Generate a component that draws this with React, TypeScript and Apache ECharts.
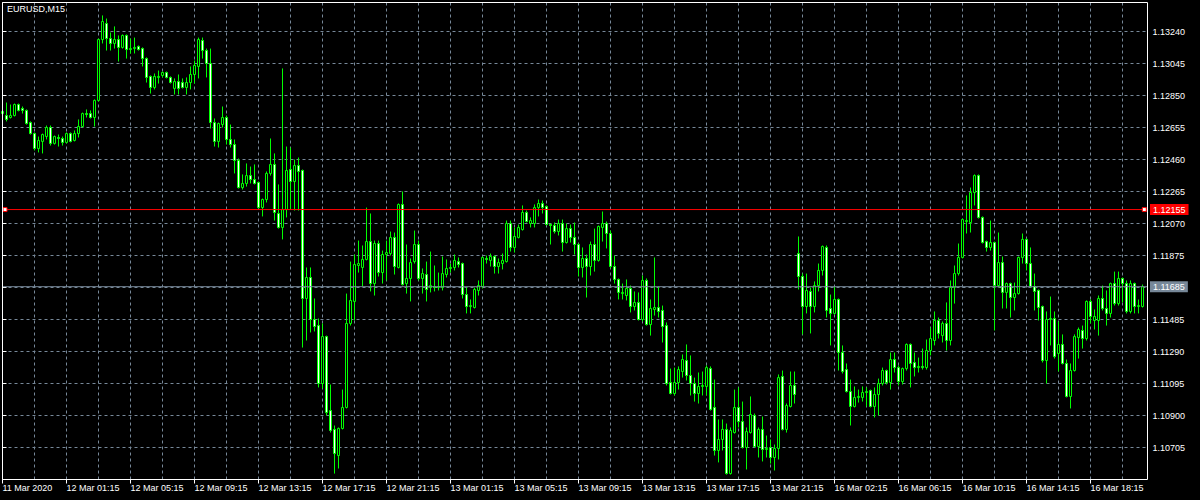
import React, { useEffect, useRef } from 'react';
import * as echarts from 'echarts';

const symbolTitle = 'EURUSD,M15';

// one label every 16 bars (M15), starting at the first bar
const timeLabels = [
  '11 Mar 2020', '12 Mar 01:15', '12 Mar 05:15', '12 Mar 09:15', '12 Mar 13:15', '12 Mar 17:15',
  '12 Mar 21:15', '13 Mar 01:15', '13 Mar 05:15', '13 Mar 09:15', '13 Mar 13:15', '13 Mar 17:15',
  '13 Mar 21:15', '16 Mar 02:15', '16 Mar 06:15', '16 Mar 10:15', '16 Mar 14:15', '16 Mar 18:15',
];

const priceLabels = [
  '1.10705', '1.10900', '1.11095', '1.11290', '1.11485', '1.11875', '1.12070',
  '1.12265', '1.12460', '1.12655', '1.12850', '1.13045', '1.13240',
];
const priceMin = 1.1051;
const priceMax = 1.1341672;
const priceStep = 0.00195;

const levelPrice = 1.12155;
const bidPrice = 1.11685;
// horizontal lines run across the whole chart width (0 = left edge, 1 = right edge)
const lineSpan = [0, 1];
// anchor squares of the horizontal level line
const levelAnchors = [0.0022, 0.9972];

// [open, close, low, high]
const candles: number[][] = [
  [1.12740, 1.12753, 1.12704, 1.12783], [1.12728, 1.12704, 1.12692, 1.12807], [1.12716, 1.12728, 1.12710, 1.12795],
  [1.12728, 1.12795, 1.12722, 1.12801], [1.12795, 1.12759, 1.12753, 1.12801], [1.12771, 1.12759, 1.12740, 1.12783],
  [1.12759, 1.12679, 1.12673, 1.12765], [1.12685, 1.12618, 1.12612, 1.12692], [1.12618, 1.12527, 1.12515, 1.12625],
  [1.12527, 1.12576, 1.12503, 1.12600], [1.12570, 1.12612, 1.12497, 1.12618], [1.12600, 1.12655, 1.12582, 1.12667],
  [1.12655, 1.12558, 1.12545, 1.12667], [1.12558, 1.12600, 1.12551, 1.12606], [1.12594, 1.12588, 1.12539, 1.12612],
  [1.12588, 1.12564, 1.12545, 1.12600], [1.12564, 1.12618, 1.12558, 1.12625], [1.12618, 1.12570, 1.12564, 1.12625],
  [1.12576, 1.12618, 1.12570, 1.12637], [1.12618, 1.12661, 1.12594, 1.12704], [1.12661, 1.12740, 1.12655, 1.12746],
  [1.12740, 1.12734, 1.12716, 1.12765], [1.12740, 1.12716, 1.12710, 1.12759], [1.12716, 1.12820, 1.12661, 1.12826],
  [1.12820, 1.13191, 1.12813, 1.13197], [1.13191, 1.13301, 1.13167, 1.13338], [1.13289, 1.13197, 1.13124, 1.13319],
  [1.13197, 1.13167, 1.13124, 1.13234], [1.13167, 1.13191, 1.13136, 1.13271], [1.13191, 1.13143, 1.13057, 1.13216],
  [1.13143, 1.13216, 1.13136, 1.13222], [1.13216, 1.13130, 1.13075, 1.13222], [1.13130, 1.13136, 1.13106, 1.13197],
  [1.13136, 1.13143, 1.13106, 1.13203], [1.13149, 1.13130, 1.13124, 1.13155], [1.13136, 1.13075, 1.13027, 1.13143],
  [1.13075, 1.12960, 1.12929, 1.13082], [1.12966, 1.12899, 1.12862, 1.12972], [1.12899, 1.12966, 1.12887, 1.12984],
  [1.12960, 1.12966, 1.12923, 1.13002], [1.12972, 1.12990, 1.12960, 1.12996], [1.12990, 1.12960, 1.12954, 1.12996],
  [1.12960, 1.12929, 1.12923, 1.12966], [1.12893, 1.12935, 1.12856, 1.12954], [1.12935, 1.12893, 1.12856, 1.12978],
  [1.12929, 1.12899, 1.12893, 1.12954], [1.12899, 1.12929, 1.12856, 1.12960], [1.12929, 1.12978, 1.12887, 1.13027],
  [1.12978, 1.13033, 1.12923, 1.13063], [1.13027, 1.13191, 1.12954, 1.13203], [1.13185, 1.13124, 1.13075, 1.13203],
  [1.13124, 1.13045, 1.12960, 1.13136], [1.13045, 1.12685, 1.12649, 1.13136], [1.12685, 1.12570, 1.12539, 1.12710],
  [1.12570, 1.12679, 1.12533, 1.12685], [1.12673, 1.12716, 1.12655, 1.12783], [1.12716, 1.12582, 1.12551, 1.12728],
  [1.12582, 1.12551, 1.12533, 1.12673], [1.12551, 1.12454, 1.12375, 1.12582], [1.12454, 1.12289, 1.12283, 1.12466],
  [1.12289, 1.12314, 1.12277, 1.12369], [1.12314, 1.12362, 1.12295, 1.12436], [1.12362, 1.12338, 1.12314, 1.12417],
  [1.12338, 1.12314, 1.12308, 1.12430], [1.12320, 1.12167, 1.12161, 1.12326], [1.12167, 1.12216, 1.12113, 1.12222],
  [1.12216, 1.12375, 1.12198, 1.12387], [1.12375, 1.12430, 1.12362, 1.12588], [1.12430, 1.12137, 1.12088, 1.12497],
  [1.12131, 1.12046, 1.12039, 1.12308], [1.12046, 1.12155, 1.11973, 1.13015], [1.12155, 1.12393, 1.12107, 1.12539],
  [1.12399, 1.12326, 1.12155, 1.12533], [1.12326, 1.12423, 1.12149, 1.12460], [1.12423, 1.12387, 1.12149, 1.12472],
  [1.12393, 1.11613, 1.11314, 1.12399], [1.11613, 1.11741, 1.11357, 1.11802], [1.11741, 1.11485, 1.11406, 1.11802],
  [1.11485, 1.11442, 1.11412, 1.11613], [1.11448, 1.11095, 1.11071, 1.11491], [1.11095, 1.11381, 1.11064, 1.11461],
  [1.11381, 1.10918, 1.10900, 1.11387], [1.10930, 1.10809, 1.10796, 1.11089], [1.10815, 1.10668, 1.10546, 1.10839],
  [1.10656, 1.10821, 1.10577, 1.10827], [1.10821, 1.10949, 1.10815, 1.11058], [1.10949, 1.11461, 1.10943, 1.11643],
  [1.11461, 1.11601, 1.11448, 1.11838], [1.11595, 1.11820, 1.11479, 1.11881], [1.11814, 1.11826, 1.11771, 1.11966],
  [1.11802, 1.11851, 1.11686, 1.11936], [1.11851, 1.11960, 1.11845, 1.12167], [1.11960, 1.11704, 1.11656, 1.12131],
  [1.11704, 1.11948, 1.11631, 1.11966], [1.11948, 1.11771, 1.11747, 1.11966], [1.11771, 1.11881, 1.11704, 1.11905],
  [1.11881, 1.11893, 1.11723, 1.11966], [1.11887, 1.11985, 1.11875, 1.12021], [1.11985, 1.11808, 1.11759, 1.12015],
  [1.11802, 1.12186, 1.11796, 1.12192], [1.12186, 1.11698, 1.11692, 1.12265], [1.11704, 1.11735, 1.11643, 1.11942],
  [1.11735, 1.11832, 1.11595, 1.11857], [1.11838, 1.11942, 1.11826, 1.12027], [1.11942, 1.11735, 1.11723, 1.11966],
  [1.11735, 1.11765, 1.11643, 1.11796], [1.11759, 1.11668, 1.11595, 1.11838], [1.11680, 1.11692, 1.11650, 1.11899],
  [1.11686, 1.11680, 1.11656, 1.11814], [1.11680, 1.11686, 1.11662, 1.11771], [1.11680, 1.11765, 1.11662, 1.11869],
  [1.11759, 1.11796, 1.11741, 1.11851], [1.11796, 1.11802, 1.11771, 1.11826], [1.11802, 1.11845, 1.11784, 1.11881],
  [1.11838, 1.11820, 1.11802, 1.11863], [1.11826, 1.11637, 1.11613, 1.11832], [1.11637, 1.11564, 1.11522, 1.11680],
  [1.11564, 1.11570, 1.11522, 1.11607], [1.11558, 1.11668, 1.11552, 1.11680], [1.11662, 1.11692, 1.11631, 1.11723],
  [1.11686, 1.11863, 1.11674, 1.11869], [1.11857, 1.11851, 1.11826, 1.11875], [1.11845, 1.11869, 1.11808, 1.11887],
  [1.11869, 1.11808, 1.11765, 1.11875], [1.11808, 1.11832, 1.11765, 1.11857], [1.11826, 1.11845, 1.11790, 1.11887],
  [1.11838, 1.12070, 1.11832, 1.12088], [1.12070, 1.11924, 1.11899, 1.12088], [1.11924, 1.11991, 1.11893, 1.12046],
  [1.11985, 1.12046, 1.11979, 1.12064], [1.12033, 1.12137, 1.12027, 1.12180], [1.12137, 1.12082, 1.12076, 1.12149],
  [1.12070, 1.12088, 1.12046, 1.12107], [1.12070, 1.12167, 1.12046, 1.12186], [1.12167, 1.12192, 1.12113, 1.12216],
  [1.12192, 1.12167, 1.12131, 1.12210], [1.12174, 1.12064, 1.12058, 1.12180], [1.12064, 1.12058, 1.11942, 1.12070],
  [1.12058, 1.12021, 1.12009, 1.12076], [1.12021, 1.12070, 1.11997, 1.12094], [1.12070, 1.11954, 1.11899, 1.12094],
  [1.11954, 1.12039, 1.11948, 1.12070], [1.12039, 1.11985, 1.11954, 1.12064], [1.11985, 1.11942, 1.11881, 1.12076],
  [1.11942, 1.11802, 1.11747, 1.11948], [1.11802, 1.11857, 1.11741, 1.11924], [1.11857, 1.11808, 1.11619, 1.11881],
  [1.11808, 1.11942, 1.11753, 1.11960], [1.11942, 1.11845, 1.11777, 1.12039], [1.11845, 1.12052, 1.11838, 1.12058],
  [1.12046, 1.12070, 1.11960, 1.12143], [1.12070, 1.12009, 1.11918, 1.12082], [1.12009, 1.11808, 1.11796, 1.12027],
  [1.11808, 1.11729, 1.11704, 1.11875], [1.11729, 1.11650, 1.11607, 1.11735], [1.11643, 1.11650, 1.11607, 1.11704],
  [1.11631, 1.11674, 1.11601, 1.11729], [1.11674, 1.11564, 1.11528, 1.11692], [1.11564, 1.11589, 1.11540, 1.11656],
  [1.11589, 1.11485, 1.11479, 1.11650], [1.11485, 1.11723, 1.11473, 1.11753], [1.11723, 1.11454, 1.11448, 1.11735],
  [1.11454, 1.11552, 1.11387, 1.11607], [1.11546, 1.11558, 1.11509, 1.11863], [1.11558, 1.11534, 1.11497, 1.11686],
  [1.11540, 1.11442, 1.11345, 1.11570], [1.11448, 1.11095, 1.11083, 1.11467], [1.11101, 1.11034, 1.11028, 1.11186],
  [1.11034, 1.11101, 1.11022, 1.11192], [1.11101, 1.11180, 1.11058, 1.11199], [1.11168, 1.11241, 1.11131, 1.11272],
  [1.11235, 1.11144, 1.11113, 1.11333], [1.11144, 1.11095, 1.11022, 1.11266], [1.11095, 1.11034, 1.10985, 1.11131],
  [1.11034, 1.11077, 1.10973, 1.11162], [1.11077, 1.11083, 1.11022, 1.11168], [1.11077, 1.11192, 1.11022, 1.11205],
  [1.11186, 1.10937, 1.10930, 1.11199], [1.10949, 1.10687, 1.10656, 1.11119], [1.10687, 1.10754, 1.10614, 1.10876],
  [1.10754, 1.10815, 1.10687, 1.10876], [1.10815, 1.10546, 1.10540, 1.10851], [1.10546, 1.10809, 1.10540, 1.10827],
  [1.10796, 1.10949, 1.10790, 1.11058], [1.10949, 1.10863, 1.10827, 1.11071], [1.10863, 1.10705, 1.10699, 1.10985],
  [1.10705, 1.10802, 1.10571, 1.10827], [1.10796, 1.10906, 1.10790, 1.11016], [1.10900, 1.10711, 1.10705, 1.10912],
  [1.10711, 1.10815, 1.10644, 1.10827], [1.10815, 1.10693, 1.10620, 1.10894], [1.10693, 1.10699, 1.10644, 1.10778],
  [1.10705, 1.10644, 1.10607, 1.10754], [1.10644, 1.10699, 1.10565, 1.10723], [1.10699, 1.11131, 1.10632, 1.11150],
  [1.11138, 1.10815, 1.10809, 1.11174], [1.10815, 1.10961, 1.10796, 1.10973], [1.10955, 1.11083, 1.10949, 1.11168],
  [1.11083, 1.11028, 1.10973, 1.11168], [1.11887, 1.11747, 1.11668, 1.11991], [1.11747, 1.11564, 1.11394, 1.11765],
  [1.11564, 1.11662, 1.11522, 1.11765], [1.11656, 1.11564, 1.11400, 1.11680], [1.11564, 1.11692, 1.11528, 1.11717],
  [1.11692, 1.11784, 1.11656, 1.11826], [1.11784, 1.11930, 1.11753, 1.11936], [1.11924, 1.11540, 1.11497, 1.11936],
  [1.11552, 1.11522, 1.11327, 1.11637], [1.11522, 1.11607, 1.11515, 1.11686], [1.11607, 1.11284, 1.11174, 1.11613],
  [1.11284, 1.11168, 1.11156, 1.11327], [1.11180, 1.11046, 1.11040, 1.11217], [1.11046, 1.10955, 1.10839, 1.11119],
  [1.10955, 1.11010, 1.10949, 1.11077], [1.11010, 1.11016, 1.10979, 1.11058], [1.11010, 1.11040, 1.10985, 1.11077],
  [1.11040, 1.11046, 1.10955, 1.11071], [1.11052, 1.10955, 1.10949, 1.11058], [1.10955, 1.11028, 1.10888, 1.11071],
  [1.11028, 1.11095, 1.10900, 1.11125], [1.11095, 1.11174, 1.11083, 1.11192], [1.11174, 1.11101, 1.11089, 1.11180],
  [1.11101, 1.11241, 1.11058, 1.11284], [1.11241, 1.11192, 1.11162, 1.11284], [1.11192, 1.11107, 1.11083, 1.11205],
  [1.11107, 1.11186, 1.11089, 1.11192], [1.11186, 1.11333, 1.11174, 1.11339], [1.11333, 1.11217, 1.11071, 1.11339],
  [1.11223, 1.11192, 1.11138, 1.11284], [1.11192, 1.11199, 1.11162, 1.11253], [1.11199, 1.11192, 1.11180, 1.11308],
  [1.11192, 1.11296, 1.11180, 1.11363], [1.11296, 1.11369, 1.11266, 1.11436], [1.11357, 1.11479, 1.11327, 1.11534],
  [1.11479, 1.11400, 1.11369, 1.11497], [1.11387, 1.11461, 1.11345, 1.11473], [1.11461, 1.11357, 1.11296, 1.11589],
  [1.11357, 1.11680, 1.11327, 1.11723], [1.11680, 1.11765, 1.11582, 1.11814], [1.11765, 1.11863, 1.11753, 1.11948],
  [1.11863, 1.12094, 1.11857, 1.12100], [1.12082, 1.12088, 1.12009, 1.12241], [1.12076, 1.12259, 1.12015, 1.12289],
  [1.12259, 1.12362, 1.12180, 1.12369], [1.12362, 1.12107, 1.12100, 1.12369], [1.12107, 1.11954, 1.11948, 1.12113],
  [1.11960, 1.11924, 1.11899, 1.11966], [1.11924, 1.11954, 1.11905, 1.12088], [1.11954, 1.11692, 1.11418, 1.11960],
  [1.11692, 1.11832, 1.11680, 1.12015], [1.11832, 1.11650, 1.11552, 1.11869], [1.11650, 1.11704, 1.11552, 1.11710],
  [1.11704, 1.11619, 1.11497, 1.11710], [1.11619, 1.11643, 1.11540, 1.11710], [1.11643, 1.11863, 1.11637, 1.11869],
  [1.11863, 1.11973, 1.11826, 1.12009], [1.11973, 1.11826, 1.11784, 1.11979], [1.11826, 1.11686, 1.11680, 1.11924],
  [1.11686, 1.11656, 1.11540, 1.11765], [1.11662, 1.11558, 1.11479, 1.11668], [1.11564, 1.11235, 1.11223, 1.11570],
  [1.11235, 1.11485, 1.11095, 1.11534], [1.11485, 1.11491, 1.11327, 1.11625], [1.11491, 1.11259, 1.11247, 1.11534],
  [1.11278, 1.11333, 1.11168, 1.11473], [1.11333, 1.11217, 1.11211, 1.11394], [1.11217, 1.11016, 1.11010, 1.11241],
  [1.11016, 1.11174, 1.10943, 1.11217], [1.11174, 1.11381, 1.11168, 1.11394], [1.11375, 1.11424, 1.11247, 1.11436],
  [1.11418, 1.11369, 1.11308, 1.11448], [1.11369, 1.11595, 1.11357, 1.11601], [1.11595, 1.11503, 1.11461, 1.11607],
  [1.11479, 1.11503, 1.11424, 1.11546], [1.11479, 1.11613, 1.11387, 1.11631], [1.11613, 1.11552, 1.11540, 1.11692],
  [1.11552, 1.11522, 1.11448, 1.11662], [1.11522, 1.11704, 1.11497, 1.11710], [1.11704, 1.11582, 1.11570, 1.11777],
  [1.11582, 1.11735, 1.11570, 1.11777], [1.11735, 1.11704, 1.11589, 1.11741], [1.11704, 1.11534, 1.11522, 1.11723],
  [1.11534, 1.11704, 1.11522, 1.11723], [1.11704, 1.11564, 1.11522, 1.11710], [1.11564, 1.11570, 1.11522, 1.11607],
  [1.11564, 1.11685, 1.11558, 1.11698],
];

const FONT = '"Liberation Sans", Arial, sans-serif';
const GRID_COLOR = '#778899';
const CANDLE_COLOR = '#00ff00';
const LEVEL_COLOR = '#ff0000';

function priceTag(text: string, bg: string) {
  return {
    show: true,
    distance: 2.5,
    formatter: text,
    color: '#ffffff',
    backgroundColor: bg,
    fontSize: 9,
    fontFamily: FONT,
    lineHeight: 9,
    padding: [1, 3, 1, 3],
  };
}

export default function App() {
  const ref = useRef<HTMLDivElement>(null);

  useEffect(() => {
    if (!ref.current) return;
    const chart = echarts.init(ref.current, null, { renderer: 'svg' });
    // two spare slots to the right of the last bar (chart shift)
    const categories = Array.from({ length: candles.length + 2 }, (_, i) => String(i));

    chart.setOption({
      animation: false,
      backgroundColor: '#000000',
      textStyle: { fontFamily: FONT },
      title: {
        text: symbolTitle,
        left: 7,
        top: 4,
        padding: 0,
        textStyle: { color: '#ffffff', fontSize: 9, fontWeight: 'normal', fontFamily: FONT },
      },
      grid: [
        { left: 2.5, top: 2.5, width: 1148, height: 477, outerBoundsMode: 'none' },
        { left: 2.5, top: 2.5, width: 1145, height: 477, outerBoundsMode: 'none' },
      ],
      xAxis: [
        {
          type: 'category',
          gridIndex: 0,
          data: categories,
          boundaryGap: false,
          axisLine: { show: false },
          axisTick: { show: true, interval: 15, length: 4, lineStyle: { color: '#ffffff' } },
          axisLabel: {
            interval: 15,
            color: '#ffffff',
            fontSize: 9,
            fontFamily: FONT,
            align: 'left',
            margin: 4,
            formatter: (_v: string, idx: number) => (idx % 16 === 0 ? timeLabels[idx / 16] ?? '' : ''),
          },
          splitLine: { show: true, interval: 7, lineStyle: { color: GRID_COLOR, type: [3, 3], width: 1 } },
        },
        { type: 'value', gridIndex: 1, min: 0, max: 1, show: false },
      ],
      yAxis: [
        { type: 'value', gridIndex: 0, min: priceMin, max: priceMax, show: false },
        {
          type: 'value',
          gridIndex: 1,
          position: 'right',
          min: priceMin,
          max: priceMax,
          interval: priceStep,
          axisLine: { show: false },
          axisTick: { show: true, length: 4, lineStyle: { color: '#ffffff' } },
          axisLabel: {
            color: '#ffffff',
            fontSize: 9,
            fontFamily: FONT,
            margin: 5,
            showMinLabel: true,
            showMaxLabel: true,
            formatter: (v: number) => {
              const s = v.toFixed(5);
              return priceLabels.includes(s) ? s : '';
            },
          },
          splitLine: { show: true, lineStyle: { color: GRID_COLOR, type: [3, 3], width: 1 } },
        },
      ],
      series: [
        {
          type: 'candlestick',
          xAxisIndex: 0,
          yAxisIndex: 0,
          data: candles,
          barWidth: 2,
          itemStyle: {
            color: '#000000',
            color0: '#ffffff',
            borderColor: CANDLE_COLOR,
            borderColor0: CANDLE_COLOR,
            borderColorDoji: CANDLE_COLOR,
            borderWidth: 1,
          },
        },
        {
          name: 'bid',
          type: 'line',
          xAxisIndex: 1,
          yAxisIndex: 1,
          data: lineSpan.map((x) => [x, bidPrice]),
          showSymbol: false,
          symbol: 'none',
          silent: true,
          clip: false,
          lineStyle: { color: GRID_COLOR, width: 1, type: 'solid' },
          endLabel: priceTag(bidPrice.toFixed(5), GRID_COLOR),
        },
        {
          name: 'level',
          type: 'line',
          xAxisIndex: 1,
          yAxisIndex: 1,
          data: lineSpan.map((x) => [x, levelPrice]),
          showSymbol: false,
          symbol: 'none',
          silent: true,
          clip: false,
          lineStyle: { color: LEVEL_COLOR, width: 1, type: 'solid' },
          endLabel: priceTag(levelPrice.toFixed(5), LEVEL_COLOR),
          markPoint: {
            silent: true,
            symbol: 'rect',
            symbolSize: 4,
            animation: false,
            itemStyle: { color: '#ffffff', borderColor: LEVEL_COLOR, borderWidth: 1 },
            label: { show: false },
            data: levelAnchors.map((x) => ({ coord: [x, levelPrice] })),
          },
        },
      ],
      graphic: [
        {
          type: 'rect',
          silent: true,
          z: 100,
          shape: { x: 2.5, y: 2.5, width: 1145, height: 477 },
          style: { fill: 'none', stroke: '#ffffff', lineWidth: 1 },
        },
      ],
    });

    return () => chart.dispose();
  }, []);

  return <div ref={ref} style={{ position: 'fixed', left: 0, top: 0, width: 1200, height: 500 }} />;
}
